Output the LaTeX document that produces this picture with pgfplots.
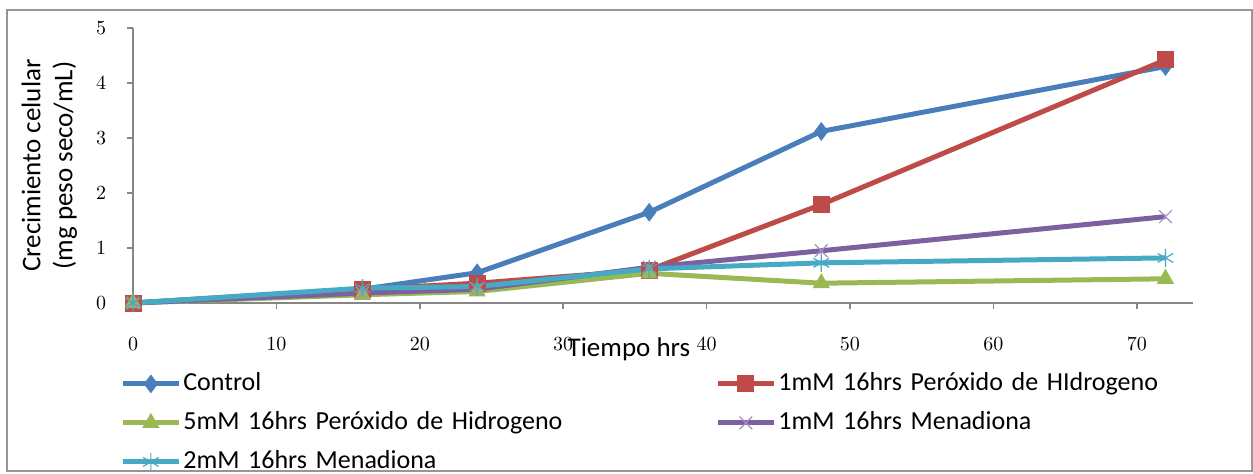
\documentclass[border=0pt]{standalone}
\usepackage{pgfplots}
\pgfplotsset{compat=1.18}
\usepackage{fontspec}
\setmainfont{Carlito}
\usetikzlibrary{plotmarks}

\definecolor{cBlue}{RGB}{74,126,187}
\definecolor{cRed}{RGB}{190,75,72}
\definecolor{cGreen}{RGB}{152,185,84}
\definecolor{cPurple}{RGB}{125,96,160}
\definecolor{cCyan}{RGB}{70,170,197}
\definecolor{axgray}{RGB}{134,134,134}
\definecolor{framegray}{RGB}{150,150,150}

\begin{document}
\begin{tikzpicture}
\useasboundingbox (0,0) rectangle (626.5pt,236.5pt);
\draw[framegray, line width=1.2pt] (3.5pt,1pt) rectangle (626pt,231.5pt);
\begin{axis}[
  at={(66.5pt,85pt)}, anchor=origin,
  scale only axis,
  width=529.85pt, height=137.5pt,
  xmin=0, xmax=73.9, ymin=0, ymax=5,
  axis x line=bottom, axis y line=left,
  axis line style={axgray, line width=0.8pt, -},
  xtick={0,10,...,70}, ytick={0,1,...,5},
  tick style={axgray, line width=0.8pt},
  tick align=outside, major tick length=3pt,
  ticklabel style={font=\fontsize{10}{11}\selectfont, text=black},
  xticklabel style={anchor=center, yshift=-17.5pt},
  yticklabel style={anchor=center, xshift=-13pt},
  clip=false,
  xlabel={Tiempo hrs},
  xlabel style={at={(axis description cs:0.468,-0.168)}, anchor=center, font=\fontsize{13.5}{15}\selectfont},
  ylabel={Crecimiento celular\\(mg peso seco/mL)},
  ylabel style={at={(axis description cs:-0.079,0.5)}, anchor=center, align=center, rotate=0, font=\fontsize{13.5}{16}\selectfont},
  every axis plot/.append style={line width=2.5pt},
  legend columns=2,
  legend cell align=left,
  legend style={
    at={(axis description cs:-0.0123,-0.240)}, anchor=north west,
    draw=none, fill=none, inner sep=0pt,
    font=\fontsize{13}{15}\selectfont,
    row sep=5pt,
    nodes={inner sep=1pt, text height=9.5pt, text depth=3pt, text width=265pt, align=left},
  },
  legend image code/.code={
    \draw[#1, mark repeat=2, mark phase=2] plot coordinates {(0pt,0pt) (14pt,0pt) (28pt,0pt)};
  },
]
\addplot[cBlue, mark=diamond*, mark size=4.3pt, mark options={solid, fill=cBlue, line width=0.5pt}]
  coordinates {(0,0) (16,0.25) (24,0.55) (36,1.65) (48,3.12) (72,4.30)};
\addlegendentry{Control}
\addplot[cRed, mark=square*, mark size=4pt, mark options={solid, fill=cRed, line width=0.5pt}]
  coordinates {(0,0) (16,0.25) (24,0.36) (36,0.60) (48,1.79) (72,4.42)};
\addlegendentry{1mM 16hrs Peróxido de HIdrogeno}
\addplot[cGreen, mark=triangle*, mark size=4.5pt, mark options={solid, fill=cGreen, line width=0.5pt}]
  coordinates {(0,0) (16,0.15) (24,0.21) (36,0.54) (48,0.36) (72,0.44)};
\addlegendentry{5mM 16hrs Peróxido de Hidrogeno}
\addplot[cPurple, mark=x, mark size=4.5pt, mark options={solid, line width=0.6pt, draw=cPurple!70}]
  coordinates {(0,0) (16,0.18) (24,0.25) (36,0.65) (48,0.95) (72,1.57)};
\addlegendentry{1mM 16hrs Menadiona}
\addplot[cCyan, mark=asterisk, mark size=4.5pt, mark options={solid, line width=0.6pt}]
  coordinates {(0,0) (16,0.27) (24,0.30) (36,0.62) (48,0.73) (72,0.82)};
\addlegendentry{2mM 16hrs Menadiona}
\end{axis}
\end{tikzpicture}
\end{document}
